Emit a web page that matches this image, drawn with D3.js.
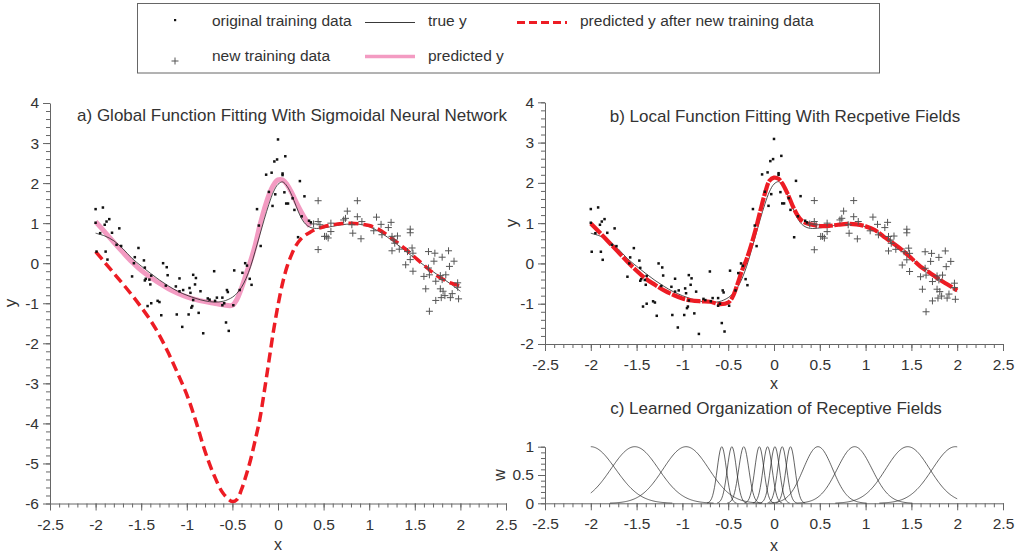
<!DOCTYPE html>
<html>
<head>
<meta charset="utf-8">
<script src="https://cdn.jsdelivr.net/npm/d3@7"></script>
<style>
  body { margin: 0; background: #fff; }
  text { font-family: "Liberation Sans", Arial, Helvetica, sans-serif; fill: #333; }
</style>
</head>
<body>
<svg id="chart" width="1017" height="556"></svg>
<script>
// ---- training samples ----
const originalX = [-2.0,-1.92,-2.0,-1.99,-1.85,-1.88,-1.90,-1.82,-1.95,-1.74,-1.89,-1.87,-1.77,-1.72,-1.60,-1.57,-1.58,-1.53,-1.47,-1.46,-1.46,-1.45,-1.41,-1.39,-1.40,-1.43,-1.39,-1.32,-1.30,-1.28,-1.26,-1.22,-1.21,-1.23,-1.12,-1.11,-1.08,-1.08,-1.04,-1.05,-0.97,-0.98,-0.95,-0.94,-0.93,-0.90,-0.91,-0.93,-0.96,-0.85,-0.87,-0.82,-0.77,-0.70,-0.75,-0.69,-0.67,-0.61,-0.61,-0.59,-0.57,-0.54,-0.56,-0.55,-0.49,-0.48,
  -0.42,-0.39,-0.36,-0.34,-0.31,-0.29,-0.23,-0.21,-0.19,-0.13,-0.10,-0.07,-0.06,-0.04,-0.03,-0.01,0.0,0.05,0.05,0.07,0.08,0.09,0.11,0.16,0.18,0.22,0.24,0.26,0.29,0.34,0.36];
const originalY = [1.35,1.39,1.01,0.29,1.10,1.04,0.96,0.76,0.75,0.87,0.29,0.09,0.46,0.43,-0.33,0.15,0.0,0.38,0.07,-0.11,-0.43,-0.39,-0.41,-0.31,-0.53,-1.07,-1.0,-0.94,-0.97,-1.30,0.0,-0.10,-0.30,-0.56,-0.58,-1.28,-0.38,-0.70,-0.67,-1.59,-0.62,-1.28,-1.11,-1.07,-0.29,-0.37,-0.53,-0.92,-0.74,-0.70,-1.24,-1.75,-0.88,-0.20,-0.91,-0.94,-0.86,-0.86,-1.05,-1.0,-1.48,-1.69,-0.67,-0.72,-1.05,-0.18,
  -0.67,-0.24,0.0,-0.06,-0.39,-0.54,1.35,0.94,0.43,2.21,1.78,2.26,1.43,2.54,1.72,2.59,3.09,2.24,2.20,1.77,2.67,1.49,1.49,1.62,1.33,0.65,2.05,1.17,1.67,1.06,1.02];

const newX = [0.44,0.87,0.76,0.44,0.46,0.58,0.58,0.51,0.55,0.44,0.72,0.74,0.87,0.81,0.82,0.92,0.91,1.08,1.13,1.05,1.14,1.24,1.21,1.25,1.27,1.31,1.28,1.25,1.33,1.45,1.45,1.42,1.47,1.48,1.45,1.40,1.48,1.65,1.72,1.87,1.80,1.93,1.88,1.71,1.65,1.60,1.66,1.73,1.78,1.84,1.80,1.62,1.78,1.81,1.73,1.79,1.83,1.91,1.97,1.97,1.98,1.66,1.89,0.39,0.53];
const newY = [1.56,1.56,1.30,1.04,0.96,1.0,0.79,0.67,0.63,0.34,1.08,1.12,1.16,0.96,0.75,1.04,0.61,1.15,0.97,0.81,0.71,1.02,0.89,0.67,0.58,0.68,0.50,0.31,0.35,0.85,0.76,0.29,0.38,0.25,0.09,-0.04,-0.20,0.29,0.25,0.31,0.15,0.05,-0.08,0.05,-0.12,-0.33,-0.29,-0.45,-0.31,-0.29,-0.41,-0.64,-0.64,-0.70,-0.93,-0.86,-0.81,-0.76,-0.49,-0.60,-0.89,-1.20,-0.86,0.98,0.67];

// ---- fitted curves, sampled at curveX ----
const curveX = [-2.0,-1.9,-1.8,-1.7,-1.6,-1.5,-1.4,-1.3,-1.2,-1.1,-1.0,-0.9,-0.8,-0.7,-0.6,-0.5,
  -0.45,-0.4,-0.35,-0.3,-0.25,-0.2,-0.15,-0.1,-0.05,0.0,0.05,0.1,0.15,0.2,0.25,0.3,0.35,0.4,
  0.5,0.6,0.7,0.8,0.9,1.0,1.1,1.2,1.3,1.4,1.5,1.6,1.7,1.8,1.9,2.0];
const trueY = [0.75,0.68,0.56,0.36,0.12,-0.07,-0.25,-0.42,-0.57,-0.70,-0.80,-0.88,-0.94,-0.97,-0.95,-0.85,
  -0.75,-0.60,-0.38,-0.08,0.30,0.70,1.10,1.47,1.78,1.97,2.03,1.92,1.70,1.42,1.15,0.98,0.90,0.87,
  0.88,0.92,0.96,0.98,0.97,0.91,0.80,0.65,0.48,0.30,0.12,-0.05,-0.21,-0.37,-0.53,-0.70];
// sigmoidal network, trained on the original samples only (x <= 0.35)
const globalFitY = [1.04,0.78,0.52,0.27,0.03,-0.18,-0.35,-0.50,-0.64,-0.75,-0.84,-0.91,-0.96,-1.00,-1.04,-1.05,
  -0.90,-0.62,-0.28,0.06,0.45,0.93,1.35,1.70,1.95,2.08,2.08,1.96,1.76,1.52,1.30,1.10,0.92];
// sigmoidal network after the new samples
const globalAfterY = [0.29,0.02,-0.25,-0.52,-0.80,-1.10,-1.42,-1.80,-2.25,-2.75,-3.28,-3.95,-4.70,-5.30,-5.75,-5.95,
  -5.90,-5.65,-5.30,-4.90,-4.42,-3.90,-3.20,-2.45,-1.70,-1.05,-0.50,-0.08,0.22,0.45,0.60,0.70,0.77,0.83,
  0.91,0.96,0.99,1.00,0.98,0.94,0.85,0.70,0.53,0.35,0.15,-0.05,-0.24,-0.39,-0.50,-0.57];
// receptive-field model after the new samples
const localFitY = [0.99,0.76,0.52,0.28,0.04,-0.18,-0.38,-0.53,-0.67,-0.78,-0.87,-0.92,-0.94,-0.95,-1.01,-0.97,
  -0.82,-0.52,-0.18,0.10,0.45,0.85,1.30,1.73,2.05,2.13,2.10,1.95,1.72,1.45,1.22,1.07,1.00,0.97,
  0.93,0.93,0.96,0.98,0.97,0.92,0.83,0.66,0.50,0.33,0.13,-0.08,-0.23,-0.39,-0.53,-0.67];

// ---- receptive fields: centres and widths ----
const rfCenters = [-2.0,-1.52,-0.96,-0.57,-0.46,-0.33,-0.16,-0.07,0.01,0.09,0.18,0.48,0.88,1.46,1.98];
const rfWidths  = [0.27,0.26,0.25,0.05,0.05,0.055,0.05,0.05,0.05,0.05,0.05,0.16,0.19,0.24,0.25];

// ---- ticks ----
const xTicks = [-2.5,-2,-1.5,-1,-0.5,0,0.5,1,1.5,2,2.5];
const yTicksA = [-6,-5,-4,-3,-2,-1,0,1,2,3,4];
const yTicksB = [-2,-1,0,1,2,3,4];
const yTicksC = [0,0.5,1];

const RED = "#ed1c24", PINK = "#f39bc2", AXIS = "#666";
const svg = d3.select("#chart");
const fmt = d => String(d);

function drawAxes(g, x, y, yMajor, yMinorStep) {
  const xMinor = d3.range(-25, 26).map(v => v / 10);
  const [y0, y1] = y.domain();
  const n = Math.round((y1 - y0) / yMinorStep);
  const yMinor = d3.range(0, n + 1).map(i => +(y0 + i * yMinorStep).toFixed(3));
  const yBase = y.range()[0], xBase = x.range()[0];

  const xm = g.append("g").attr("transform", `translate(0,${yBase})`)
    .call(d3.axisBottom(x).tickValues(xMinor).tickSize(4).tickFormat(""));
  xm.select(".domain").remove();
  const xa = g.append("g").attr("transform", `translate(0,${yBase})`)
    .call(d3.axisBottom(x).tickValues(xTicks).tickSize(7).tickSizeOuter(0).tickPadding(8).tickFormat(fmt));
  const ym = g.append("g").attr("transform", `translate(${xBase},0)`)
    .call(d3.axisLeft(y).tickValues(yMinor).tickSize(4).tickFormat(""));
  ym.select(".domain").remove();
  const ya = g.append("g").attr("transform", `translate(${xBase},0)`)
    .call(d3.axisLeft(y).tickValues(yMajor).tickSize(7).tickSizeOuter(0).tickPadding(4).tickFormat(fmt));
  [xm, xa, ym, ya].forEach(a => {
    a.selectAll("line").attr("stroke", AXIS);
    a.selectAll(".domain").attr("stroke", AXIS);
    a.selectAll("text").attr("fill", "#333").style("font-size", "15.5px")
      .style("font-family", '"Liberation Sans", Arial, sans-serif');
  });
}

function drawPoints(g, x, y) {
  g.append("g").selectAll("path").data(newX).join("path")
    .attr("d", (d, i) => `M${x(d) - 3.5},${y(newY[i])}h7M${x(d)},${y(newY[i]) - 3.5}v7`)
    .attr("stroke", "#555").attr("stroke-width", 1).attr("fill", "none");
  g.append("g").selectAll("rect").data(originalX).join("rect")
    .attr("x", d => x(d) - 1.25).attr("y", (d, i) => y(originalY[i]) - 1.25)
    .attr("width", 2.5).attr("height", 2.5).attr("fill", "#111");
}

const smooth = d3.curveCatmullRom.alpha(0.5);

// ---- panel a ----
const xA = d3.scaleLinear().domain([-2.5, 2.5]).range([50, 506]);
const yA = d3.scaleLinear().domain([-6, 4]).range([503.5, 103]);
const gA = svg.append("g");
drawAxes(gA, xA, yA, yTicksA, 0.2);
const lineA = d3.line().x(d => xA(d[0])).y(d => yA(d[1])).curve(smooth);
gA.append("path").datum(globalFitY.map((v, i) => [curveX[i], v])).attr("d", lineA)
  .attr("fill", "none").attr("stroke", PINK).attr("stroke-width", 5);
gA.append("path").datum(trueY.map((v, i) => [curveX[i], v])).attr("d", lineA)
  .attr("fill", "none").attr("stroke", "#222").attr("stroke-width", 0.8);
gA.append("path").datum(globalAfterY.map((v, i) => [curveX[i], v])).attr("d", lineA)
  .attr("fill", "none").attr("stroke", RED).attr("stroke-width", 3.5).attr("stroke-dasharray", "10,5");
drawPoints(gA, xA, yA);
gA.append("text").attr("x", 292).attr("y", 121).attr("text-anchor", "middle")
  .style("font-size", "17px").text("a) Global Function Fitting With Sigmoidal Neural Network");
gA.append("text").attr("x", 278).attr("y", 550).attr("text-anchor", "middle").style("font-size", "16px").text("x");
gA.append("text").attr("transform", "translate(16,303) rotate(-90)").attr("text-anchor", "middle")
  .style("font-size", "17px").text("y");

// ---- panel b ----
const xB = d3.scaleLinear().domain([-2.5, 2.5]).range([545, 1003]);
const yB = d3.scaleLinear().domain([-2, 4]).range([344, 102.3]);
const gB = svg.append("g");
drawAxes(gB, xB, yB, yTicksB, 0.2);
const lineB = d3.line().x(d => xB(d[0])).y(d => yB(d[1])).curve(smooth);
gB.append("path").datum(trueY.map((v, i) => [curveX[i], v])).attr("d", lineB)
  .attr("fill", "none").attr("stroke", "#222").attr("stroke-width", 0.8);
gB.append("path").datum(localFitY.map((v, i) => [curveX[i], v])).attr("d", lineB)
  .attr("fill", "none").attr("stroke", RED).attr("stroke-width", 4.2).attr("stroke-dasharray", "14,1.5");
drawPoints(gB, xB, yB);
gB.append("text").attr("x", 785).attr("y", 122).attr("text-anchor", "middle")
  .style("font-size", "17px").text("b) Local Function Fitting With Recpetive Fields");
gB.append("text").attr("x", 774).attr("y", 389).attr("text-anchor", "middle").style("font-size", "16px").text("x");
gB.append("text").attr("transform", "translate(517,223) rotate(-90)").attr("text-anchor", "middle")
  .style("font-size", "17px").text("y");

// ---- panel c ----
const xC = d3.scaleLinear().domain([-2.5, 2.5]).range([545, 1003]);
const yC = d3.scaleLinear().domain([0, 1]).range([503.3, 446.7]);
const gC = svg.append("g");
drawAxes(gC, xC, yC, yTicksC, 0.1);
const lineC = d3.line().x(d => xC(d[0])).y(d => yC(d[1]));
const rfGrid = d3.range(-200, 201).map(v => v / 100);
rfCenters.forEach((c, k) => {
  const s = rfWidths[k];
  const pts = rfGrid.map(xv => [xv, Math.exp(-((xv - c) ** 2) / (2 * s * s))]).filter(p => p[1] > 0.004);
  gC.append("path").datum(pts).attr("d", lineC)
    .attr("fill", "none").attr("stroke", "#222").attr("stroke-width", 0.7);
});
gC.append("text").attr("x", 776).attr("y", 414).attr("text-anchor", "middle")
  .style("font-size", "17px").text("c) Learned Organization of Receptive Fields");
gC.append("text").attr("x", 774).attr("y", 551).attr("text-anchor", "middle").style("font-size", "16px").text("x");
gC.append("text").attr("transform", "translate(505,475) rotate(-90)").attr("text-anchor", "middle")
  .style("font-size", "16px").text("w");

// ---- legend ----
const lg = svg.append("g");
lg.append("rect").attr("x", 137.5).attr("y", 3.5).attr("width", 742).attr("height", 69.5)
  .attr("fill", "none").attr("stroke", AXIS);
lg.append("rect").attr("x", 174).attr("y", 19).attr("width", 2.2).attr("height", 2.2).attr("fill", "#111");
lg.append("path").attr("d", "M171.5,61h7M175,57.5v7").attr("stroke", "#555").attr("fill", "none");
lg.append("line").attr("x1", 365).attr("x2", 415).attr("y1", 22.5).attr("y2", 22.5).attr("stroke", "#222").attr("stroke-width", 0.9);
lg.append("line").attr("x1", 365).attr("x2", 415).attr("y1", 56.5).attr("y2", 56.5).attr("stroke", PINK).attr("stroke-width", 3.5);
lg.append("line").attr("x1", 517).attr("x2", 567).attr("y1", 22.5).attr("y2", 22.5).attr("stroke", RED)
  .attr("stroke-width", 3).attr("stroke-dasharray", "8,4");
const legendText = [
  [212, 26, "original training data"], [428, 26, "true y"], [580, 26, "predicted y after new training data"],
  [212, 61, "new training data"], [428, 61, "predicted y"]
];
lg.selectAll("text.lt").data(legendText).join("text").attr("class", "lt")
  .attr("x", d => d[0]).attr("y", d => d[1]).style("font-size", "15.5px").text(d => d[2]);
</script>
</body>
</html>
